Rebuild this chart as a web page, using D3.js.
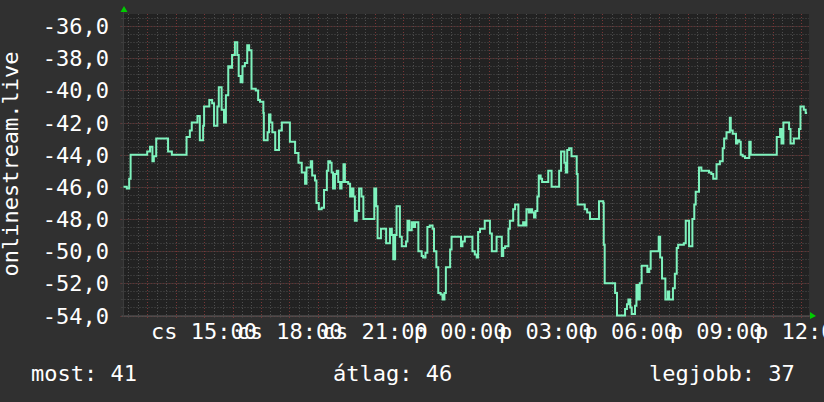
<!DOCTYPE html>
<html>
<head>
<meta charset="utf-8">
<script src="https://cdnjs.cloudflare.com/ajax/libs/d3/7.8.5/d3.min.js"></script>
<style>
body { margin: 0; background: #303030; }
text { font-family: "DejaVu Sans Mono", monospace; fill: #ffffff; }
</style>
</head>
<body>
<svg width="824" height="402"></svg>
<script>
// minutes after the start of the window (thu 12:10) and the value from there on
var minutes = [0, 7, 12, 15, 50, 56, 61, 64, 69, 94, 102, 133, 140, 144, 156, 161, 168, 170, 181, 187,
  191, 198, 201, 207, 212, 216, 221, 225, 229, 235, 240, 243, 247, 251, 256, 261, 265, 270, 279, 284,
  288, 295, 296, 304, 307, 310, 314, 320, 328, 334, 351, 362, 369, 376, 383, 386, 395, 398, 404, 407,
  412, 418, 423, 429, 432, 436, 439, 442, 446, 450, 453, 457, 460, 464, 467, 474, 478, 481, 485, 488,
  492, 497, 502, 506, 529, 533, 536, 543, 554, 562, 566, 569, 573, 576, 583, 587, 596, 599, 603, 608,
  611, 615, 622, 629, 632, 637, 641, 646, 652, 655, 660, 664, 669, 673, 677, 680, 689, 692, 712, 715,
  720, 736, 741, 745, 748, 752, 762, 773, 777, 787, 798, 801, 805, 812, 815, 822, 826, 833, 843, 847,
  850, 855, 859, 862, 866, 869, 873, 876, 880, 883, 896, 903, 919, 923, 930, 933, 936, 940, 945, 956,
  958, 973, 978, 984, 1003, 1012, 1013, 1015, 1037, 1041, 1058, 1062, 1065, 1069, 1072, 1079, 1082, 1086, 1089, 1093,
  1105, 1109, 1112, 1129, 1132, 1136, 1143, 1148, 1151, 1159, 1163, 1167, 1170, 1182, 1186, 1193, 1200, 1204, 1207, 1214,
  1219, 1226, 1235, 1240, 1244, 1251, 1258, 1264, 1267, 1272, 1279, 1281, 1285, 1292, 1295, 1299, 1302, 1306, 1311, 1320,
  1323, 1378, 1385, 1388, 1392, 1404, 1407, 1414, 1425, 1428, 1435, 1439, 1442];
var values = [-46.0, -46.1, -45.5, -44.0, -43.8, -43.5, -44.4, -44.1, -43.0, -43.8, -44.0, -42.9, -42.5, -42.0, -41.6, -43.1, -42.2, -41.0, -40.6, -40.8,
  -42.2, -41.0, -39.8, -41.2, -42.0, -40.3, -38.5, -38.6, -37.8, -37.0, -37.8, -39.1, -39.5, -38.5, -38.3, -37.2, -37.5, -39.9, -40.0, -40.6,
  -40.7, -41.4, -43.1, -42.6, -41.5, -42.0, -42.6, -43.7, -42.5, -42.0, -43.2, -43.9, -44.5, -45.1, -45.8, -44.8, -44.4, -45.3, -45.6, -47.0,
  -47.4, -47.3, -46.2, -45.0, -44.4, -44.5, -45.1, -46.1, -45.2, -45.0, -45.7, -46.1, -45.7, -44.6, -45.7, -45.8, -46.6, -46.1, -46.6, -48.1,
  -47.5, -46.1, -46.6, -48.0, -46.1, -47.2, -49.2, -48.6, -49.5, -48.6, -49.0, -50.5, -49.0, -47.2, -49.1, -49.7, -49.4, -48.1, -48.7, -48.2,
  -48.5, -48.2, -50.0, -50.3, -50.4, -50.1, -48.5, -48.4, -48.6, -50.0, -51.0, -52.6, -52.7, -53.0, -52.6, -51.0, -49.9, -49.1, -49.7, -49.4,
  -49.1, -50.0, -50.2, -50.4, -48.8, -48.6, -48.1, -48.9, -50.0, -49.1, -50.3, -49.8, -49.7, -48.6, -48.1, -47.4, -47.1, -48.4, -48.2, -48.4,
  -47.4, -47.6, -47.4, -47.6, -47.9, -47.5, -46.6, -45.3, -45.5, -45.7, -45.0, -46.0, -45.0, -43.8, -44.5, -45.1, -43.7, -43.6, -44.1, -45.2,
  -47.1, -47.4, -47.6, -48.0, -46.9, -47.0, -49.6, -52.0, -52.6, -54.0, -53.6, -53.3, -53.0, -53.5, -53.9, -53.4, -52.1, -53.0, -52.0, -50.9,
  -51.3, -51.1, -50.0, -49.1, -50.4, -51.7, -53.0, -52.5, -53.0, -52.3, -51.4, -49.8, -49.6, -49.5, -48.1, -49.7, -48.0, -47.1, -46.3, -44.8,
  -45.0, -45.0, -45.1, -45.2, -45.5, -44.6, -44.4, -43.6, -43.0, -42.6, -41.7, -42.5, -42.7, -43.3, -43.1, -43.2, -44.0, -44.1, -44.2, -43.2,
  -44.0, -42.9, -42.4, -43.3, -42.0, -42.4, -43.3, -43.0, -42.4, -41.0, -41.2, -41.4, -41.4];

var yTicks = [-54, -52, -50, -48, -46, -44, -42, -40, -38, -36];
var xTickHours = [15, 18, 21, 24, 27, 30, 33, 36];
var xTickLabels = ["cs 15:00", "cs 18:00", "cs 21:00", "p 00:00", "p 03:00", "p 06:00", "p 09:00", "p 12:00"];
var legendLabels = ["most: 41", "átlag: 46", "legjobb: 37"];
var axisTitle = "onlinestream.live";

var start = new Date(2024, 0, 4, 12, 10);
function minToDate(m) { return new Date(start.getTime() + m * 60000); }
function hourToDate(h) { return new Date(2024, 0, 4, h, 0); }

var svg = d3.select("svg");
var pLeft = 123.5, pRight = 809, pTop = 14, pBottom = 315.5;

var x = d3.scaleTime()
    .domain([start, minToDate(1446)])
    .range([pLeft, pRight]);
var y = d3.scaleLinear()
    .domain([-54, -35.25])
    .range([pBottom, pTop]);

svg.append("rect")
    .attr("x", pLeft).attr("y", pTop)
    .attr("width", pRight - pLeft).attr("height", pBottom - pTop)
    .attr("fill", "#222222");

var grid = svg.append("g");

// minor grid: every 20 minutes / 0.5 units
var minorX = d3.timeMinute.every(20).range(x.domain()[0], x.domain()[1]);
grid.selectAll(".mx").data(minorX).enter().append("line")
    .attr("x1", function(d) { return Math.round(x(d)) + 0.5; })
    .attr("x2", function(d) { return Math.round(x(d)) + 0.5; })
    .attr("y1", pTop).attr("y2", pBottom + 2)
    .attr("stroke", "#4e4e4e").attr("stroke-dasharray", "1,2");
var minorY = d3.range(-54, -35.25, 0.5);
grid.selectAll(".my").data(minorY).enter().append("line")
    .attr("x1", pLeft - 2).attr("x2", pRight)
    .attr("y1", function(d) { return Math.round(y(d)) + 0.5; })
    .attr("y2", function(d) { return Math.round(y(d)) + 0.5; })
    .attr("stroke", "#4e4e4e").attr("stroke-dasharray", "1,2");

// major grid: hours / labelled values
var majorX = d3.timeHour.every(1).range(x.domain()[0], x.domain()[1]);
grid.selectAll(".Mx").data(majorX).enter().append("line")
    .attr("x1", function(d) { return Math.round(x(d)) + 0.5; })
    .attr("x2", function(d) { return Math.round(x(d)) + 0.5; })
    .attr("y1", pTop).attr("y2", pBottom + 3)
    .attr("stroke", "#7a3636").attr("stroke-dasharray", "1,2");
grid.selectAll(".My").data(yTicks).enter().append("line")
    .attr("x1", pLeft - 3).attr("x2", pRight)
    .attr("y1", function(d) { return Math.round(y(d)) + 0.5; })
    .attr("y2", function(d) { return Math.round(y(d)) + 0.5; })
    .attr("stroke", "#7a3636").attr("stroke-dasharray", "1,2");

// axis lines
svg.append("line")
    .attr("x1", pLeft - 2).attr("x2", pRight + 2)
    .attr("y1", pBottom + 0.5).attr("y2", pBottom + 0.5)
    .attr("stroke", "#595959");
svg.append("line")
    .attr("x1", pLeft).attr("x2", pLeft)
    .attr("y1", pTop - 4).attr("y2", pBottom + 1)
    .attr("stroke", "#3c3c3c");

// arrows
svg.append("path")
    .attr("d", "M" + (pLeft - 3) + "," + (pTop - 2) + "L" + (pLeft + 4) + "," + (pTop - 2) + "L" + (pLeft + 0.5) + "," + (pTop - 8) + "Z")
    .attr("fill", "#00cc00");
svg.append("path")
    .attr("d", "M" + (pRight + 1) + "," + (pBottom - 3.5) + "L" + (pRight + 1) + "," + (pBottom + 3.5) + "L" + (pRight + 7) + "," + (pBottom + 0.5) + "Z")
    .attr("fill", "#00cc00");

// the series
var points = minutes.map(function(m, i) { return [minToDate(m), values[i]]; });
var line = d3.line()
    .x(function(d) { return x(d[0]); })
    .y(function(d) { return y(d[1]); })
    .curve(d3.curveStepAfter);
svg.append("path")
    .datum(points)
    .attr("d", line)
    .attr("fill", "none")
    .attr("stroke", "#7ef2bd")
    .attr("stroke-width", 2);

// y labels
var fmt = d3.format(".1f");
svg.selectAll(".yl").data(yTicks).enter().append("text")
    .attr("x", 109)
    .attr("y", function(d) { return y(d) + 8; })
    .attr("text-anchor", "end")
    .style("font-size", "22px")
    .text(function(d) { return fmt(d).replace(".", ",").replace("−", "-"); });

// x labels
svg.selectAll(".xl").data(xTickHours).enter().append("text")
    .attr("x", function(d) { return x(hourToDate(d)); })
    .attr("y", 339)
    .attr("text-anchor", "middle")
    .style("font-size", "22px")
    .text(function(d, i) { return xTickLabels[i]; });

// vertical title
svg.append("text")
    .attr("transform", "translate(18,164) rotate(-90)")
    .attr("text-anchor", "middle")
    .style("font-size", "22px")
    .text(axisTitle);

// legend line
var legendX = [32, 334, 650];
svg.selectAll(".lg").data(legendLabels).enter().append("text")
    .attr("x", function(d, i) { return legendX[i] - 1; })
    .attr("y", 381)
    .style("font-size", "22px")
    .text(function(d) { return d; });
</script>
</body>
</html>
